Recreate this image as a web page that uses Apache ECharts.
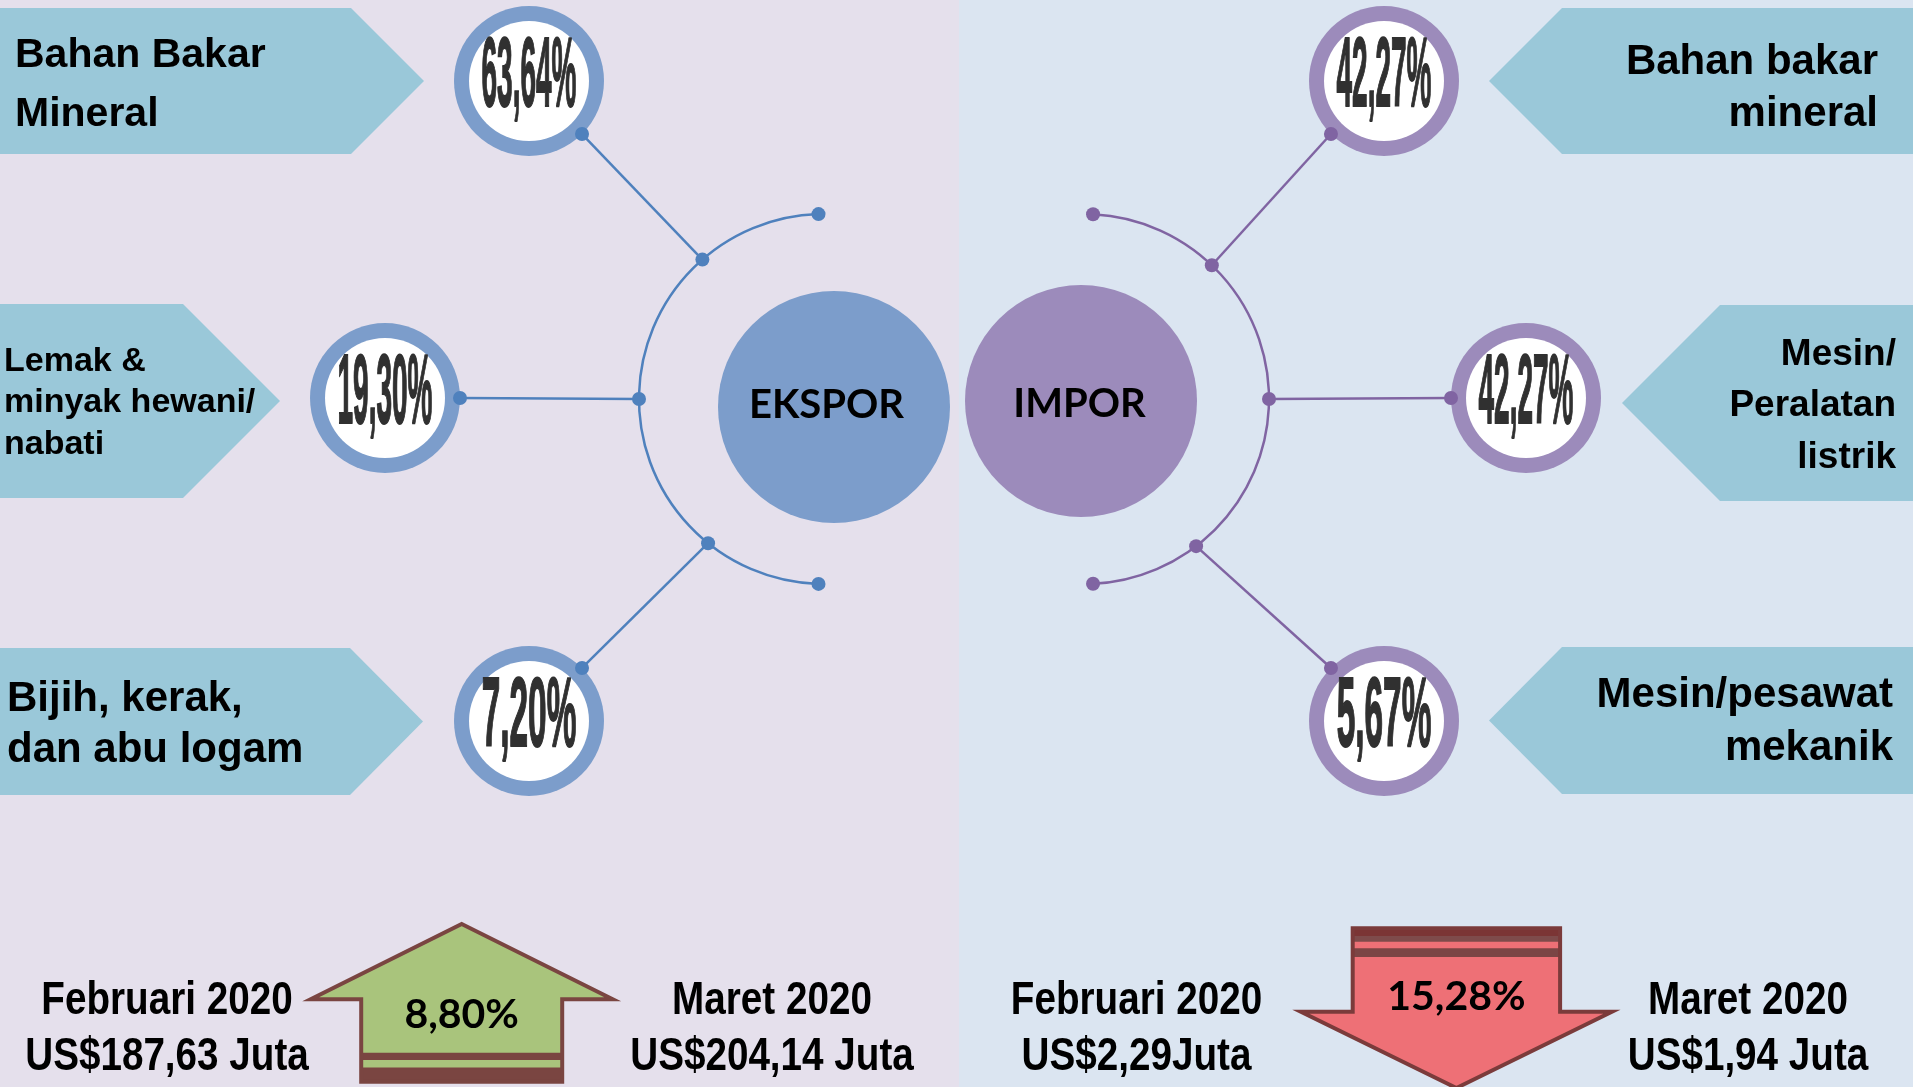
<!DOCTYPE html>
<html>
<head>
<meta charset="utf-8">
<script src="https://cdn.jsdelivr.net/npm/echarts@6/dist/echarts.min.js"></script>
<style>
html,body{margin:0;padding:0;background:#E5E0EC;overflow:hidden;}
#chart{width:1913px;height:1087px;}
</style>
</head>
<body>
<div id="chart"></div>
<script>
// ---------------- DATA ----------------
const hubLabels = ['EKSPOR', 'IMPOR'];
const exportCategories = ['Bahan Bakar\nMineral', 'Lemak &\nminyak hewani/\nnabati', 'Bijih, kerak,\ndan abu logam'];
const exportShares = [63.64, 19.30, 7.20];
const importCategories = ['Bahan bakar\nmineral', 'Mesin/\nPeralatan\nlistrik', 'Mesin/pesawat\nmekanik'];
const importShares = [42.27, 42.27, 5.67];
const periods = ['Februari 2020', 'Maret 2020'];
const exportValues = [187.63, 204.14];
const importValues = [2.29, 1.94];
const exportUnits = [' Juta', ' Juta'];
const importUnits = ['Juta', ' Juta'];
const exportChange = 8.80;   // naik
const importChange = 15.28;  // turun

// ---------------- LAYOUT (positions / sizes / styles) ----------------
const W = 1913, H = 1087, SPLIT_X = 959;
const BG = ['#E5E0EC', '#DBE5F1'];
const BANNER_FILL = '#9AC8D9';
const RING_R = 75, RING_IN = 60, DOT_R = 7, PCT_W = 96;
const SIDES = [
  {
    hub: [834, 407], hubR: 116, hubColor: '#7C9DCB', hubText: [826.5, 419.4],
    arcC: [824, 399], arcR: 185, arcFrom: 91.7, arcTo: 268.3, spokeAng: [228.9, 180, 128.8],
    rings: [[529, 81], [385, 398], [529, 721]], ringDotAng: [45, 0, -45],
    ringColor: '#7C9DCB', lineColor: '#4F81BD',
    banners: [
      {top: 8, bottom: 154, edge: 351, tip: 424, tx: 15, base: 67, lh: 58.7, fs: 41},
      {top: 304, bottom: 498, edge: 183, tip: 280, tx: 4, base: 371, lh: 41.5, fs: 34},
      {top: 648, bottom: 795, edge: 350, tip: 423, tx: 7, base: 711, lh: 51, fs: 42}
    ]
  },
  {
    hub: [1081, 401], hubR: 116, hubColor: '#9C8BBB', hubText: [1079.5, 418.4],
    arcC: [1084, 399], arcR: 185, arcFrom: -87.2, arcTo: 87.2, spokeAng: [-46.3, 0, 52.7],
    rings: [[1384, 81], [1526, 398], [1384, 721]], ringDotAng: [135, 180, 225],
    ringColor: '#9C8BBB', lineColor: '#8064A2',
    banners: [
      {top: 8, bottom: 154, edge: 1562, tip: 1489, tx: 1878, base: 74, lh: 52, fs: 42},
      {top: 305, bottom: 501, edge: 1720, tip: 1622, tx: 1896, base: 365, lh: 51.5, fs: 37},
      {top: 647, bottom: 794, edge: 1562, tip: 1489, tx: 1893, base: 707.5, lh: 52.5, fs: 42}
    ]
  }
];
const BOTTOM_TEXT_X = [[167, 772], [1136.5, 1748]];
const BOTTOM_BASE = 1014, BOTTOM_LH = 56, BOTTOM_FS = 46, BOTTOM_SX = 0.84;
const ARROW_UP = {cx: 461.7, tipY: 924, headY: 999.3, headHW: 151, shaftHW: 100.5, bottom: 1081.7,
  fill: '#A9C47C', stroke: '#7A4541',
  stripes: [[1052.7, 1060, '#7A4541'], [1067.5, 1081.7, '#7A4541']], textBase: 1029.3};
const ARROW_DOWN = {cx: 1456.4, top: 928.3, headY: 1011.7, headHW: 155.5, shaftHW: 103.7, tipY: 1088,
  fill: '#EE7076', stroke: '#7B3B3B',
  stripes: [[928.3, 936, '#7B3535'], [936, 941.7, '#7E4B4B'], [948.3, 957, '#7B4545']], textBase: 1011.7};

const SANS = '"Liberation Sans", Arial, sans-serif';
const LATO = 'Lato, "Noto Sans", sans-serif';
const MID_SANS = 0.28, MID_LATO = 0.36;

function fmt(v) { return v.toFixed(2).replace('.', ','); }
const mctx = document.createElement('canvas').getContext('2d');
function measure(t, font) { mctx.font = font; return mctx.measureText(t).width; }
function blockCenter(base, lh, n, fs, mid) { return base - mid * fs + (n - 1) * lh / 2; }

const shares = [exportShares, importShares];
const categories = [exportCategories, importCategories];
const values = [exportValues, importValues];
const units = [exportUnits, importUnits];

function sz(api, r) { return Math.abs(api.size([r, 0])[0]); }
const rad = d => d * Math.PI / 180;

// ---------------- RENDERERS ----------------
function renderBackground(params, api) {
  const a = api.coord([0, 0]), b = api.coord([SPLIT_X, H]), c = api.coord([W, H]);
  return {type: 'group', children: [
    {type: 'rect', shape: {x: a[0], y: a[1], width: b[0] - a[0], height: b[1] - a[1]}, style: {fill: BG[0]}},
    {type: 'rect', shape: {x: b[0], y: a[1], width: c[0] - b[0], height: c[1] - a[1]}, style: {fill: BG[1]}}
  ]};
}

function renderBanner(params, api) {
  const s = params.dataIndex < 3 ? 0 : 1, k = params.dataIndex % 3;
  const b = SIDES[s].banners[k];
  const mid = (b.top + b.bottom) / 2;
  const outer = s === 0 ? 0 : W;
  const pts = [[outer, b.top], [b.edge, b.top], [b.tip, mid], [b.edge, b.bottom], [outer, b.bottom]].map(p => api.coord(p));
  const txt = categories[s][k];
  const n = txt.split('\n').length;
  const cy = blockCenter(b.base, b.lh, n, b.fs, MID_SANS);
  const tp = api.coord([b.tx, cy]);
  return {type: 'group', children: [
    {type: 'polygon', shape: {points: pts}, style: {fill: BANNER_FILL}},
    {type: 'text', x: tp[0], y: tp[1], style: {text: txt, x: 0, y: 0, fill: '#000',
      font: 'bold ' + b.fs + 'px ' + SANS, lineHeight: b.lh,
      align: s === 0 ? 'left' : 'right', verticalAlign: 'middle'}}
  ]};
}

function renderNetwork(params, api) {
  const L = SIDES[params.dataIndex];
  const c = api.coord(L.arcC), r = sz(api, L.arcR);
  const onArc = a => api.coord([L.arcC[0] + L.arcR * Math.cos(rad(a)), L.arcC[1] + L.arcR * Math.sin(rad(a))]);
  const children = [
    {type: 'arc', shape: {cx: c[0], cy: c[1], r: r, startAngle: rad(L.arcFrom), endAngle: rad(L.arcTo), clockwise: true},
      style: {stroke: L.lineColor, lineWidth: 2.5, fill: null}}
  ];
  const dots = [onArc(L.arcFrom), onArc(L.arcTo)];
  L.spokeAng.forEach((a, k) => {
    const j = onArc(a);
    const rc = L.rings[k], ra = rad(L.ringDotAng[k]);
    const d = api.coord([rc[0] + RING_R * Math.cos(ra), rc[1] + RING_R * Math.sin(ra)]);
    children.push({type: 'line', shape: {x1: j[0], y1: j[1], x2: d[0], y2: d[1]}, style: {stroke: L.lineColor, lineWidth: 2.5}});
    dots.push(j);
  });
  dots.forEach(p => children.push({type: 'circle', shape: {cx: p[0], cy: p[1], r: DOT_R}, style: {fill: L.lineColor}}));
  return {type: 'group', children};
}

function renderRing(params, api) {
  const s = params.dataIndex < 3 ? 0 : 1, k = params.dataIndex % 3;
  const L = SIDES[s], rc = L.rings[k];
  const p = api.coord(rc);
  const ra = rad(L.ringDotAng[k]);
  const d = api.coord([rc[0] + RING_R * Math.cos(ra), rc[1] + RING_R * Math.sin(ra)]);
  const txt = fmt(shares[s][k]) + '%';
  const font = 'bold 50px ' + SANS;
  const w = measure(txt, font) + 2;
  return {type: 'group', children: [
    {type: 'circle', shape: {cx: p[0], cy: p[1], r: sz(api, RING_R)}, style: {fill: L.ringColor}},
    {type: 'circle', shape: {cx: p[0], cy: p[1], r: sz(api, RING_IN)}, style: {fill: '#FFFFFF'}},
    {type: 'circle', shape: {cx: d[0], cy: d[1], r: DOT_R}, style: {fill: L.lineColor}},
    {type: 'text', x: p[0], y: p[1] - 2, scaleX: PCT_W / w, scaleY: 1.98,
      style: {text: txt, x: 0, y: 0, font: font, fill: '#303030', stroke: '#303030', lineWidth: 1.0,
        align: 'center', verticalAlign: 'middle'}}
  ]};
}

function renderHub(params, api) {
  const L = SIDES[params.dataIndex];
  const p = api.coord(L.hub);
  const t = api.coord([L.hubText[0], L.hubText[1] - MID_LATO * 40]);
  return {type: 'group', children: [
    {type: 'circle', shape: {cx: p[0], cy: p[1], r: sz(api, L.hubR)}, style: {fill: L.hubColor}},
    {type: 'text', x: t[0], y: t[1], style: {text: hubLabels[params.dataIndex], x: 0, y: 0,
      font: 'bold 40px ' + LATO, fill: '#000', align: 'center', verticalAlign: 'middle'}}
  ]};
}

function renderArrow(params, api) {
  const children = [];
  const up = params.dataIndex === 0;
  const A = up ? ARROW_UP : ARROW_DOWN;
  const raw = up
    ? [[A.cx, A.tipY], [A.cx + A.headHW, A.headY], [A.cx + A.shaftHW, A.headY], [A.cx + A.shaftHW, A.bottom],
       [A.cx - A.shaftHW, A.bottom], [A.cx - A.shaftHW, A.headY], [A.cx - A.headHW, A.headY]]
    : [[A.cx - A.shaftHW, A.top], [A.cx + A.shaftHW, A.top], [A.cx + A.shaftHW, A.headY], [A.cx + A.headHW, A.headY],
       [A.cx, A.tipY], [A.cx - A.headHW, A.headY], [A.cx - A.shaftHW, A.headY]];
  const pts = raw.map(q => api.coord(q));
  children.push({type: 'polygon', shape: {points: pts}, style: {fill: A.fill}});
  A.stripes.forEach(st => {
    const a = api.coord([A.cx - A.shaftHW, st[0]]), b = api.coord([A.cx + A.shaftHW, st[1]]);
    children.push({type: 'rect', shape: {x: a[0], y: a[1], width: b[0] - a[0], height: b[1] - a[1]}, style: {fill: st[2]}});
  });
  children.push({type: 'polygon', shape: {points: pts}, style: {fill: null, stroke: A.stroke, lineWidth: 4, lineJoin: 'miter', miterLimit: 10}});
  const t = api.coord([A.cx, A.textBase - MID_LATO * 41]);
  children.push({type: 'text', x: t[0], y: t[1], style: {text: fmt(up ? exportChange : importChange) + '%', x: 0, y: 0,
    font: 'bold 41px ' + LATO, fill: '#000', align: 'center', verticalAlign: 'middle'}});
  return {type: 'group', children};
}

function renderPeriod(params, api) {
  const s = params.dataIndex < 2 ? 0 : 1, j = params.dataIndex % 2;
  const txt = periods[j] + '\n' + 'US$' + fmt(values[s][j]) + units[s][j];
  const cy = blockCenter(BOTTOM_BASE, BOTTOM_LH, 2, BOTTOM_FS, MID_SANS);
  const p = api.coord([BOTTOM_TEXT_X[s][j], cy]);
  return {type: 'text', x: p[0], y: p[1], scaleX: BOTTOM_SX, scaleY: 1,
    style: {text: txt, x: 0, y: 0, font: 'bold ' + BOTTOM_FS + 'px ' + SANS, lineHeight: BOTTOM_LH,
      fill: '#000', align: 'center', verticalAlign: 'middle'}};
}

const dummy = n => Array.from({length: n}, (_, i) => [i, 0]);

const chart = echarts.init(document.getElementById('chart'), null, {renderer: 'canvas', width: W, height: H});
chart.setOption({
  animation: false,
  backgroundColor: BG[0],
  grid: {left: 0, right: 0, top: 0, bottom: 0, containLabel: false},
  xAxis: {type: 'value', min: 0, max: W, show: false},
  yAxis: {type: 'value', min: 0, max: H, inverse: true, show: false},
  tooltip: {show: false},
  series: [
    {type: 'custom', name: 'background', renderItem: renderBackground, data: dummy(1), z: 1, silent: true},
    {type: 'custom', name: 'banners', renderItem: renderBanner, data: dummy(6), z: 2, silent: true},
    {type: 'custom', name: 'network', renderItem: renderNetwork, data: dummy(2), z: 3, silent: true},
    {type: 'custom', name: 'shares', renderItem: renderRing, data: dummy(6), z: 4, silent: true},
    {type: 'custom', name: 'hubs', renderItem: renderHub, data: dummy(2), z: 5, silent: true},
    {type: 'custom', name: 'change', renderItem: renderArrow, data: dummy(2), z: 6, silent: true},
    {type: 'custom', name: 'periods', renderItem: renderPeriod, data: dummy(4), z: 7, silent: true}
  ]
});
</script>
</body>
</html>
